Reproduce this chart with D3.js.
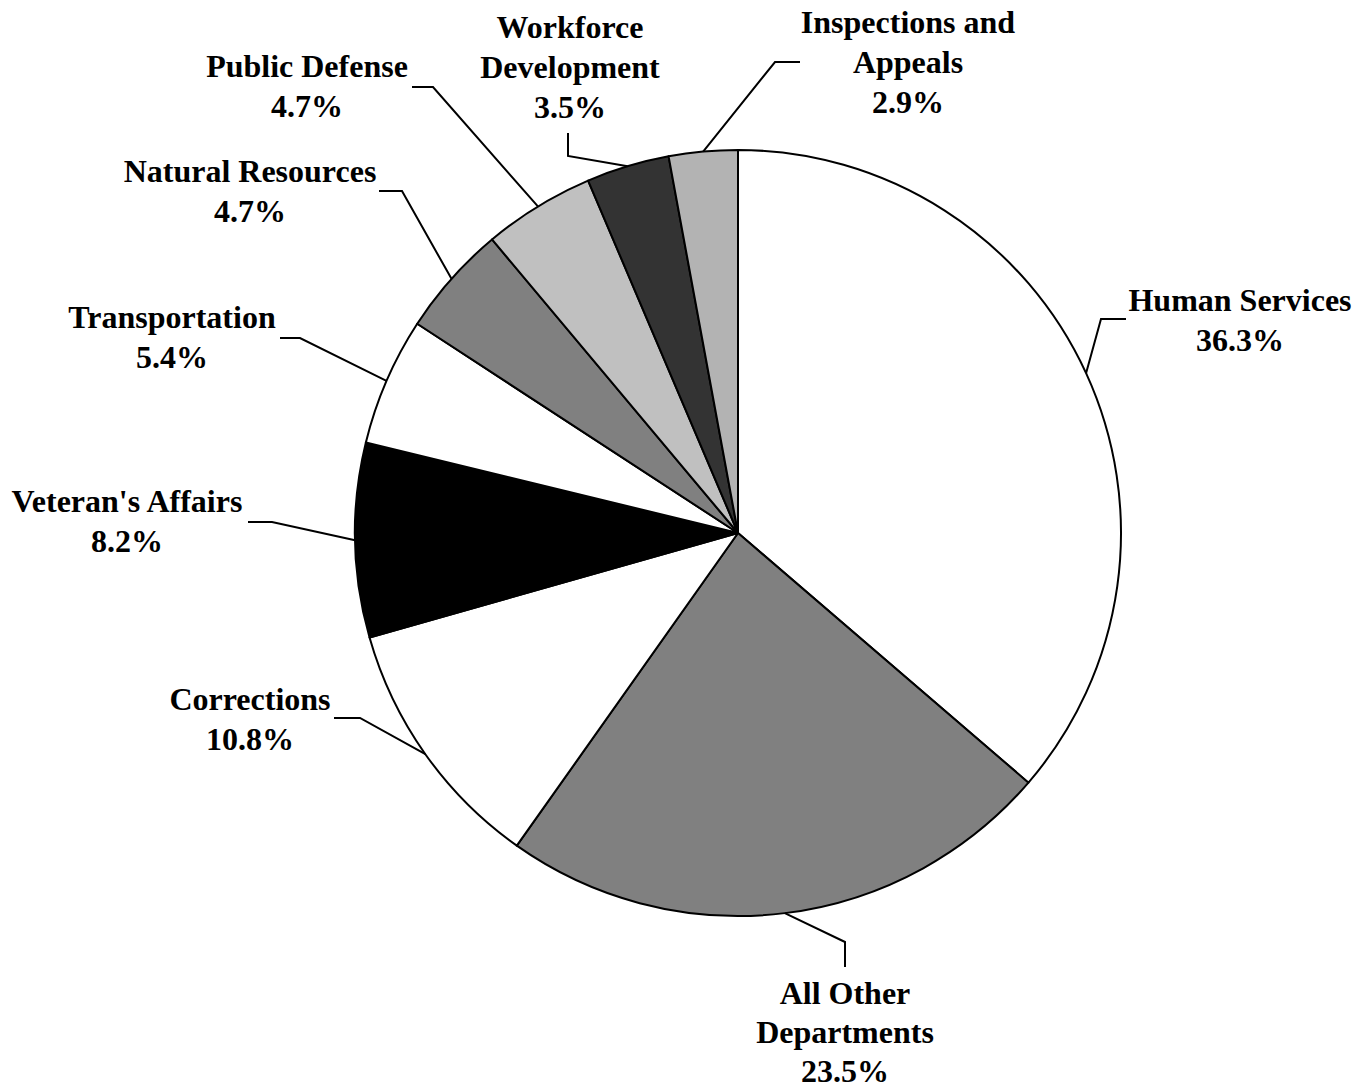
<!DOCTYPE html>
<html>
<head>
<meta charset="utf-8">
<script src="https://cdn.jsdelivr.net/npm/d3@7"></script>
<style>
  body { margin: 0; background: #fff; }
  svg { display: block; }
  text { font-family: "Liberation Serif", "Times New Roman", serif; font-weight: bold; font-size: 32px; fill: #000; }
</style>
</head>
<body>
<svg id="chart" width="1365" height="1089"></svg>
<script>
// Share of budget by department (percent), clockwise from 12 o'clock
const departments = ["Human Services", "All Other Departments", "Corrections", "Veteran's Affairs",
  "Transportation", "Natural Resources", "Public Defense", "Workforce Development", "Inspections and Appeals"];
const shares = [36.3, 23.5, 10.8, 8.2, 5.4, 4.7, 4.7, 3.5, 2.9];
const labelLines = [
  ["Human Services"], ["All Other", "Departments"], ["Corrections"], ["Veteran's Affairs"],
  ["Transportation"], ["Natural Resources"], ["Public Defense"], ["Workforce", "Development"],
  ["Inspections and", "Appeals"]
];
const fills = ["#ffffff", "#808080", "#ffffff", "#000000", "#ffffff", "#808080", "#c0c0c0", "#333333", "#b3b3b3"];

// Label placement: text centre x, first baseline y, line spacing, and the two fixed points of each leader line
const labelPos = [
  { x: 1240, y: 311, gap: 40, lead: [[1126, 319], [1101, 319]] },
  { x: 845, y: 1004, gap: 39, lead: [[845, 967], [845, 942]] },
  { x: 250, y: 710, gap: 40, lead: [[334, 718], [360, 718]] },
  { x: 127, y: 512, gap: 40, lead: [[248, 522], [272, 522]] },
  { x: 172, y: 328, gap: 40, lead: [[280, 338], [300, 338]] },
  { x: 250, y: 182, gap: 40, lead: [[379, 191], [402, 191]] },
  { x: 307, y: 77, gap: 40, lead: [[412, 87], [433, 87]] },
  { x: 570, y: 38, gap: 40, lead: [[568, 133], [568, 156]] },
  { x: 908, y: 33, gap: 40, lead: [[800, 62], [775, 62]] }
];

const cx = 738, cy = 533, radius = 383;

const svg = d3.select("#chart");
const g = svg.append("g").attr("transform", `translate(${cx},${cy})`);

const pie = d3.pie().sort(null).value(d => d);
const arcs = pie(shares);
const arc = d3.arc().innerRadius(0).outerRadius(radius);

g.selectAll("path.slice")
  .data(arcs)
  .join("path")
  .attr("class", "slice")
  .attr("d", arc)
  .attr("fill", (d, i) => fills[i])
  .attr("stroke", "#000")
  .attr("stroke-width", 2)
  .attr("stroke-linejoin", "round");

// Leader lines: from the label elbow to the middle of each slice's rim
const line = d3.line();
arcs.forEach((d, i) => {
  const a = (d.startAngle + d.endAngle) / 2;
  const rim = [cx + radius * Math.sin(a), cy - radius * Math.cos(a)];
  const pts = labelPos[i].lead.concat([rim]);
  svg.append("path")
    .attr("d", line(pts))
    .attr("fill", "none")
    .attr("stroke", "#000")
    .attr("stroke-width", 2);
});

// Labels: department name lines followed by the percentage
arcs.forEach((d, i) => {
  const p = labelPos[i];
  const lines = labelLines[i].concat([d3.format(".1f")(shares[i]) + "%"]);
  const t = svg.append("text")
    .attr("text-anchor", "middle")
    .attr("x", p.x)
    .attr("y", p.y);
  lines.forEach((s, k) => {
    t.append("tspan")
      .attr("x", p.x)
      .attr("y", p.y + k * p.gap)
      .text(s);
  });
});
</script>
</body>
</html>
